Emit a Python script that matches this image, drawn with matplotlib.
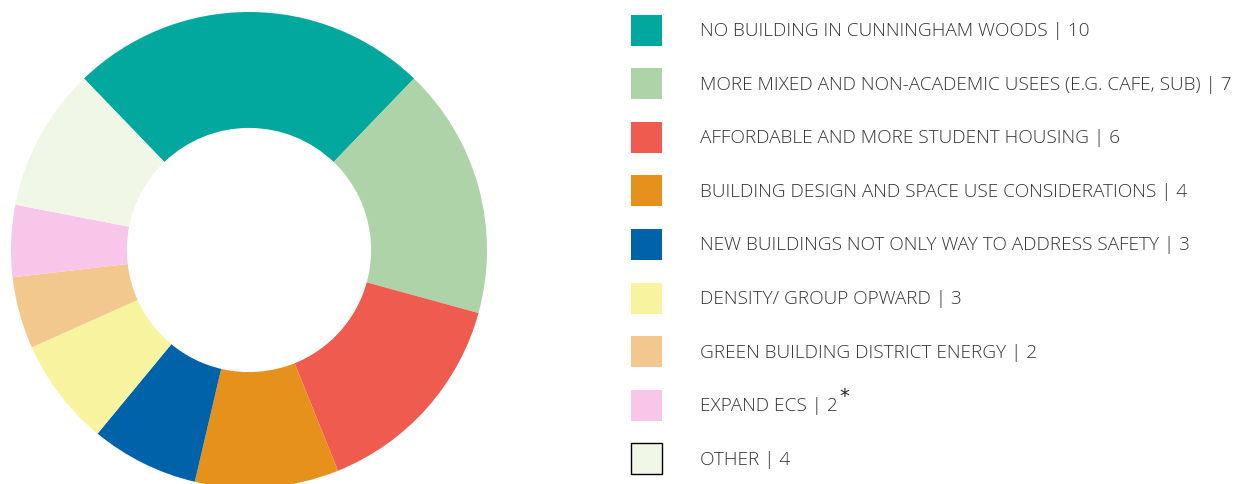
import matplotlib
matplotlib.use("Agg")
import matplotlib.pyplot as plt
from matplotlib.patches import Rectangle

categories = [
    "NO BUILDING IN CUNNINGHAM WOODS",
    "MORE MIXED AND NON-ACADEMIC USEES (E.G. CAFE, SUB)",
    "AFFORDABLE AND MORE STUDENT HOUSING",
    "BUILDING DESIGN AND SPACE USE CONSIDERATIONS",
    "NEW BUILDINGS NOT ONLY WAY TO ADDRESS SAFETY",
    "DENSITY/ GROUP OPWARD",
    "GREEN BUILDING DISTRICT ENERGY",
    "EXPAND ECS",
    "OTHER",
]
values = [10, 7, 6, 4, 3, 3, 2, 2, 4]
colors = ["#02A89E", "#AFD3A9", "#F05B50", "#E6911C", "#0063AA",
          "#F8F39F", "#F2C88F", "#F8C6E8", "#F1F7E7"]
footnote_marks = ["", "", "", "", "", "", "", "*", ""]

W, H = 1248, 485
fig = plt.figure(figsize=(W / 100, H / 100), dpi=100)

# donut
cx, cy, R = 249, 251, 238
ax = fig.add_axes([(cx - R) / W, (H - cy - R) / H, 2 * R / W, 2 * R / H])
total = sum(values)
start = 90 + values[0] / total * 360 / 2
ax.pie(values, colors=colors, startangle=start, counterclock=False,
       radius=1, wedgeprops=dict(width=0.487, linewidth=0))
ax.set_xlim(-1, 1)
ax.set_ylim(-1, 1)
ax.set_aspect("equal")
ax.axis("off")

# legend
lax = fig.add_axes([0, 0, 1, 1])
lax.set_xlim(0, W)
lax.set_ylim(H, 0)
lax.axis("off")
family = ["Open Sans", "DejaVu Sans"]

# calibrate font size so first label spans ~388 px
probe = lax.text(700, 30, f"{categories[0]} | {values[0]}", fontsize=12,
                 family=family, fontweight="light")
fig.canvas.draw()
w = probe.get_window_extent().width
probe.remove()
fs = 12 * 388 / w

y0, dy = 31, 53.6
for i, (cat, v, c, m) in enumerate(zip(categories, values, colors, footnote_marks)):
    y = y0 + i * dy
    ec = "black" if c == "#F1F7E7" else "none"
    lax.add_patch(Rectangle((630.5, y - 15.5), 31, 31, facecolor=c,
                            edgecolor=ec, linewidth=1))
    t = lax.text(700, y, f"{cat} | {v}", va="center", ha="left",
                 fontsize=fs, color="#333333", family=family,
                 fontweight="light")
    if m:
        fig.canvas.draw()
        bb = t.get_window_extent()
        lax.text(bb.x1 + 2, y - 10, m, va="center", ha="left",
                 fontsize=14, color="#222222", family=["DejaVu Sans"])

fig.savefig("out.png", dpi=100)
